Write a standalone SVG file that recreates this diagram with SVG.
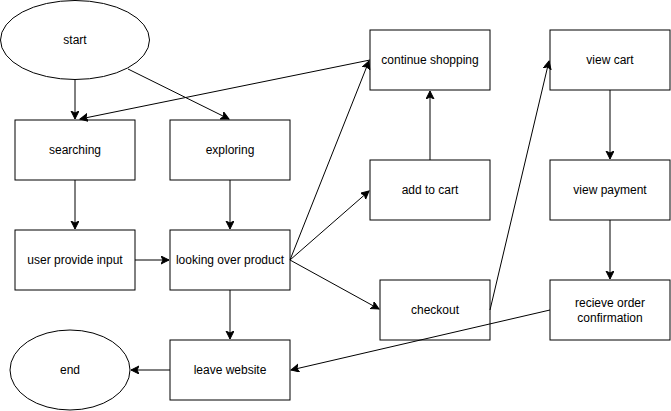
<svg xmlns="http://www.w3.org/2000/svg" width="671" height="411" viewBox="0 0 671 411">
<style>
.n{fill:#fff;stroke:#000;stroke-width:1}
.t{font-family:"Liberation Sans",Arial,sans-serif;font-size:12px;fill:#000;text-anchor:middle;dominant-baseline:central}
.e{fill:none;stroke:#000;stroke-width:1;marker-end:url(#a)}
</style>
<defs>
<marker id="a" markerUnits="userSpaceOnUse" markerWidth="10" markerHeight="10" refX="8" refY="4" orient="auto">
<path d="M0,0 L8,4 L0,8 L2,4 Z" fill="#000" stroke="#000" stroke-width="1"/>
</marker>
</defs>
<rect width="671" height="411" fill="#fff"/>
<g id="start"><ellipse class="n" cx="75" cy="40" rx="74.5" ry="39.5"/><text class="t" x="75" y="40">start</text></g>
<g id="searching"><rect class="n" x="15" y="120" width="120" height="60"/><text class="t" x="75" y="150">searching</text></g>
<g id="exploring"><rect class="n" x="170" y="120" width="120" height="60"/><text class="t" x="230" y="150">exploring</text></g>
<g id="user-input"><rect class="n" x="15" y="230" width="120" height="60"/><text class="t" x="75" y="260">user provide input</text></g>
<g id="looking"><rect class="n" x="170" y="230" width="120" height="60"/><text class="t" x="230" y="260">looking over product</text></g>
<g id="leave"><rect class="n" x="170" y="340" width="120" height="60"/><text class="t" x="230" y="370">leave website</text></g>
<g id="end"><ellipse class="n" cx="70" cy="370" rx="60" ry="40"/><text class="t" x="70" y="370">end</text></g>
<g id="continue"><rect class="n" x="370" y="30" width="120" height="60"/><text class="t" x="430" y="60">continue shopping</text></g>
<g id="add-to-cart"><rect class="n" x="370" y="160" width="120" height="60"/><text class="t" x="430" y="190">add to cart</text></g>
<g id="checkout"><rect class="n" x="380" y="280" width="110" height="60"/><text class="t" x="435" y="310">checkout</text></g>
<g id="view-cart"><rect class="n" x="550" y="30" width="120" height="60"/><text class="t" x="610" y="60">view cart</text></g>
<g id="view-payment"><rect class="n" x="550" y="160" width="120" height="60"/><text class="t" x="610" y="190">view payment</text></g>
<g id="receive"><rect class="n" x="550" y="280" width="120" height="60"/><text class="t" x="610" y="303">recieve order</text><text class="t" x="610" y="318">confirmation</text></g>
<g id="connectors">
<path class="e" d="M75,80 L75,119"/>
<path class="e" d="M128,69 L229,119"/>
<path class="e" d="M370,60 L80,119"/>
<path class="e" d="M75,180 L75,229"/>
<path class="e" d="M230,180 L230,229"/>
<path class="e" d="M135,260 L169,260"/>
<path class="e" d="M230,290 L230,339"/>
<path class="e" d="M170,370 L131,370"/>
<path class="e" d="M290,260 L369,61"/>
<path class="e" d="M290,260 L369,191"/>
<path class="e" d="M290,260 L379,309"/>
<path class="e" d="M430,160 L430,91"/>
<path class="e" d="M490,310 L549,61"/>
<path class="e" d="M610,90 L610,159"/>
<path class="e" d="M610,220 L610,279"/>
<path class="e" d="M550,310 L291,370"/>
</g>
</svg>
